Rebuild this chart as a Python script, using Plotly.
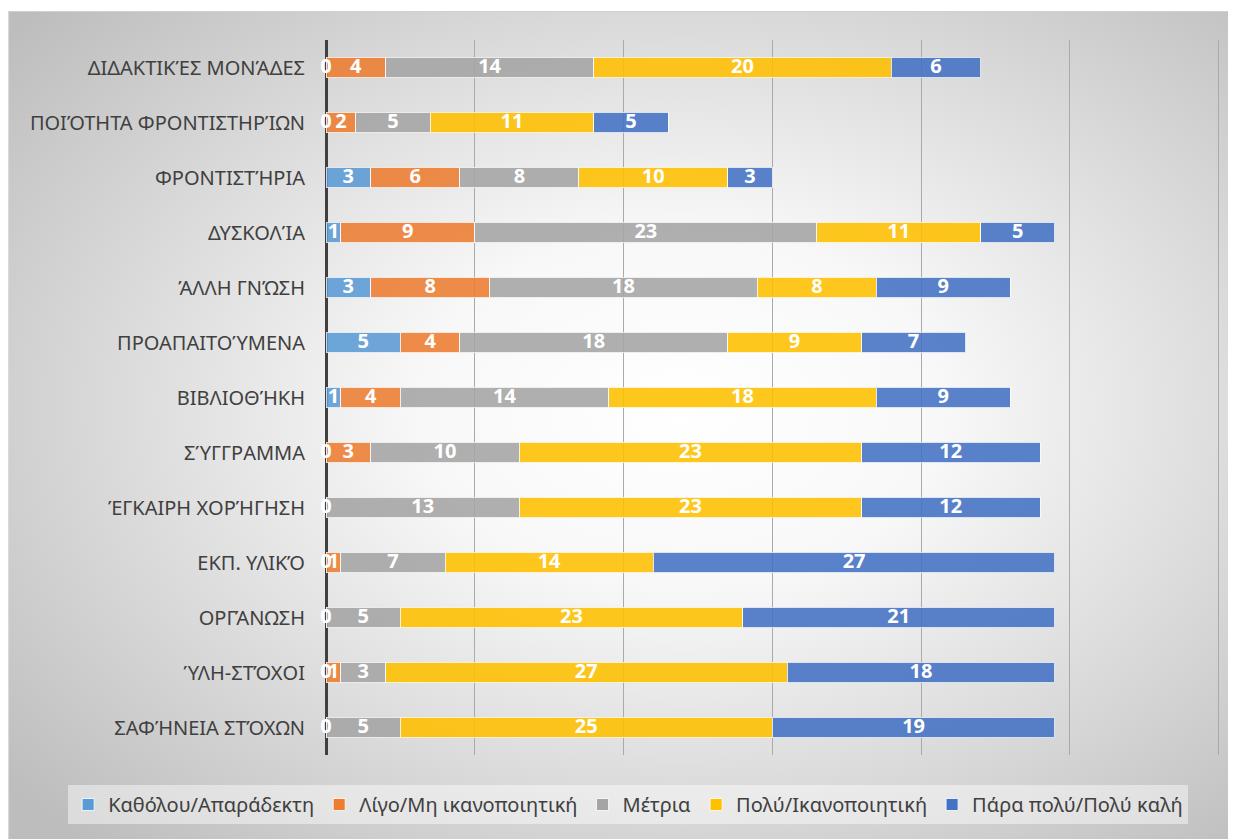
import base64
import plotly.graph_objects as go

categories = ["ΔΙΔΑΚΤΙΚΈΣ ΜΟΝΆΔΕΣ", "ΠΟΙΌΤΗΤΑ ΦΡΟΝΤΙΣΤΗΡΊΩΝ", "ΦΡΟΝΤΙΣΤΉΡΙΑ", "ΔΥΣΚΟΛΊΑ",
              "ΆΛΛΗ ΓΝΏΣΗ", "ΠΡΟΑΠΑΙΤΟΎΜΕΝΑ", "ΒΙΒΛΙΟΘΉΚΗ", "ΣΎΓΓΡΑΜΜΑ",
              "ΈΓΚΑΙΡΗ ΧΟΡΉΓΗΣΗ", "ΕΚΠ. ΥΛΙΚΌ", "ΟΡΓΆΝΩΣΗ", "ΎΛΗ-ΣΤΌΧΟΙ", "ΣΑΦΉΝΕΙΑ ΣΤΌΧΩΝ"]

series_names = ["Καθόλου/Απαράδεκτη", "Λίγο/Μη ικανοποιητική", "Μέτρια",
                "Πολύ/Ικανοποιητική", "Πάρα πολύ/Πολύ καλή"]

katholou   = [0, 0, 3, 1, 3, 5, 1, 0, 0, 0, 0, 0, 0]
ligo       = [4, 2, 6, 9, 8, 4, 4, 3, None, 1, None, 1, None]
metria     = [14, 5, 8, 23, 18, 18, 14, 10, 13, 7, 5, 3, 5]
poly       = [20, 11, 10, 11, 8, 9, 18, 23, 23, 14, 23, 27, 25]
para_poly  = [6, 5, 3, 5, 9, 7, 9, 12, 12, 27, 21, 18, 19]

series_values = [katholou, ligo, metria, poly, para_poly]
colors = ["#5B9BD5", "#ED7D31", "#A5A5A5", "#FFC000", "#4472C4"]

FONT = "Noto Sans"
fig = go.Figure()

for name, vals, col in zip(series_names, series_values, colors):
    fig.add_trace(go.Bar(
        y=categories, x=[v if v is not None else 0 for v in vals], name=name,
        orientation="h",
        marker=dict(color=col, opacity=0.88, line=dict(color="rgba(255,255,255,0.8)", width=1)),
        width=0.38, hoverinfo="x+name",
    ))

# data labels at the middle of each segment
cum = [0] * len(categories)
for vals in series_values:
    xs, ys, ts = [], [], []
    for i, v in enumerate(vals):
        if v is None:
            continue
        xs.append(cum[i] + v / 2)
        ys.append(categories[i])
        ts.append(str(v))
        cum[i] += v
    fig.add_trace(go.Scatter(
        x=xs, y=ys, text=ts, mode="text", showlegend=False, hoverinfo="skip",
        textfont=dict(family=FONT, size=20, color="white", weight="bold"),
        cliponaxis=False,
    ))

W, H = 1236, 839
XMAX = 60.3
L, T, B = 318, 32, 747
R = L + 893 / 60 * XMAX
pw, ph = R - L, B - T
FX, FY, FW, FH = 0, 3, 1236, 836

svg = ('<svg xmlns="http://www.w3.org/2000/svg" width="%d" height="%d">'
       '<defs><radialGradient id="g" cx="54%%" cy="47%%" r="70%%">'
       '<stop offset="0" stop-color="#ffffff"/><stop offset="0.3" stop-color="#f8f8f8"/>'
       '<stop offset="1" stop-color="#bdbdbd"/></radialGradient></defs>'
       '<rect x="0.5" y="0.5" width="%d" height="%d" fill="url(#g)" stroke="#d0d0d0"/></svg>'
       % (FW, FH, FW + 10, FH + 10))
src = "data:image/svg+xml;base64," + base64.b64encode(svg.encode()).decode()

fig.add_layout_image(dict(
    source=src, xref="paper", yref="paper",
    x=(FX - L) / pw, y=1 + (T - FY) / ph, sizex=FW / pw, sizey=FH / ph,
    xanchor="left", yanchor="top", sizing="stretch", layer="below",
))

fig.update_layout(
    barmode="stack",
    width=W, height=H,
    margin=dict(l=L, r=W - R, t=T, b=H - B),
    paper_bgcolor="white", plot_bgcolor="rgba(0,0,0,0)",
    font=dict(family=FONT, size=20, color="#404040"),
    showlegend=True,
    legend=dict(orientation="h", xref="paper", yref="paper",
                x=(60 - L) / pw, xanchor="left", y=-(777 - B) / ph, yanchor="top",
                bgcolor="rgba(255,255,255,0.45)", font=dict(size=20, color="#404040"),
                traceorder="normal", itemwidth=30, tracegroupgap=0),
    xaxis=dict(range=[0, XMAX], showticklabels=False, showgrid=True, gridcolor="#aaaaaa",
               gridwidth=1, zeroline=True, zerolinecolor="#404040", zerolinewidth=3,
               dtick=10, fixedrange=True),
    yaxis=dict(autorange=False, range=[len(categories) - 0.5, -0.5],
               categoryorder="array", categoryarray=categories,
               showgrid=False, ticks="", ticklabelstandoff=20,
               tickfont=dict(size=20, color="#404040"), showline=False),
)

fig.write_html("out.html")
